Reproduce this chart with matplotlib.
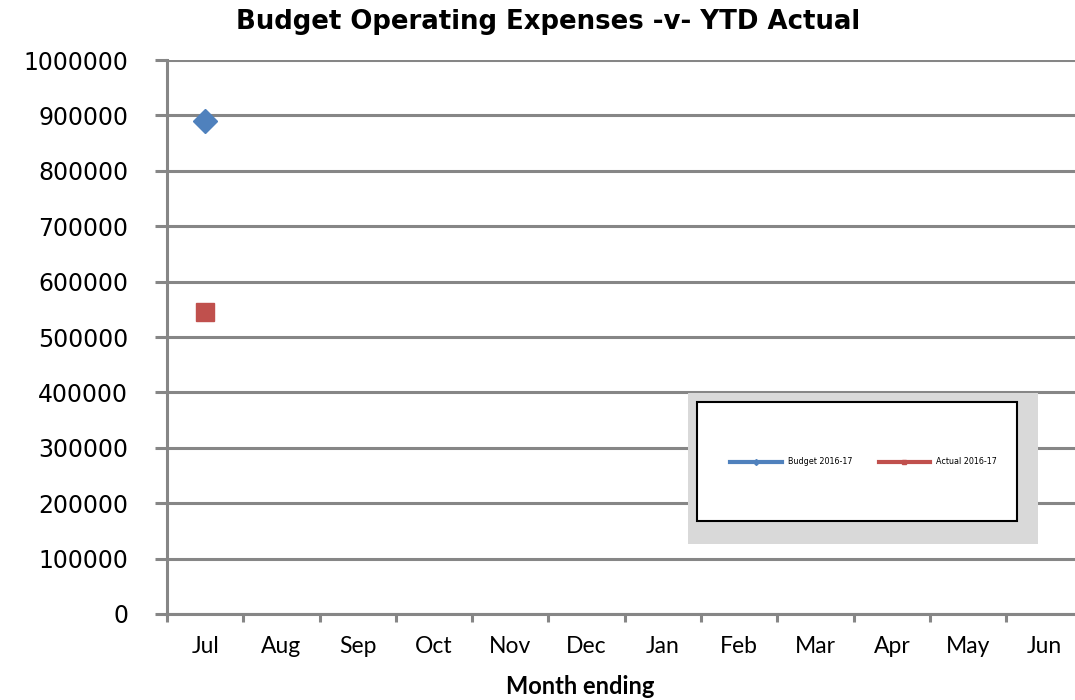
import matplotlib.pyplot as plt
import numpy as np
from matplotlib.patches import Rectangle

months = ["Jul", "Aug", "Sep", "Oct", "Nov", "Dec", "Jan", "Feb", "Mar", "Apr", "May", "Jun"]
budget = [890000]
actual = [545000]
y_ticks = [0, 100000, 200000, 300000, 400000, 500000, 600000, 700000, 800000, 900000, 1000000]

grid_col = "#868686"
blue = "#4F81BD"
red = "#C0504D"

fig = plt.figure(figsize=(10.75, 7), dpi=100)
ax = fig.add_axes([0.15535, 0.12286, 0.8517, 0.7914])

x = np.arange(len(months))
ax.plot(x[:len(budget)], budget, color=blue, lw=3, marker="D", ms=12,
        label="Budget 2016-17", zorder=4)
ax.plot(x[:len(actual)], actual, color=red, lw=3, marker="s", ms=13,
        label="Actual 2016-17", zorder=4)

ax.set_xlim(-0.5, len(months) - 0.5)
ax.set_ylim(0, 1000000)
ax.set_yticks(y_ticks)
ax.set_yticklabels([str(v) for v in y_ticks], fontsize=17, family="DejaVu Sans")
ax.set_xticks(x)
ax.set_xticklabels(months, fontsize=16.5, family="Lato")
ax.set_xticks(np.arange(-0.5, len(months)), minor=True)

ax.tick_params(axis="x", which="major", length=0, pad=16)
ax.tick_params(axis="x", which="minor", length=6, width=2.2, color=grid_col)
ax.tick_params(axis="y", length=9, width=2.2, color=grid_col, pad=19)

ax.grid(True, axis="y", color=grid_col, lw=2.2, zorder=1)
ax.set_axisbelow(True)
for s in ["top", "right"]:
    ax.spines[s].set_visible(False)
for s in ["left", "bottom"]:
    ax.spines[s].set_color(grid_col)
    ax.spines[s].set_linewidth(2.2)

fig.text(0.51, 0.969, "Budget Operating Expenses -v- YTD Actual", ha="center", va="center",
         fontsize=18.7, fontweight="bold", family="DejaVu Sans")
fig.text(0.54, 0.02, "Month ending", ha="center", va="center",
         fontsize=17, fontweight="bold", family="Lato")

# legend box
ax.add_patch(Rectangle((0.64, 0.2229), 0.3256, 0.2157, transform=fig.transFigure,
                       facecolor="#D9D9D9", edgecolor="none", zorder=6, clip_on=False))
ax.add_patch(Rectangle((0.6484, 0.2557), 0.2977, 0.17, transform=fig.transFigure,
                       facecolor="white", edgecolor="black", lw=1.5, zorder=7, clip_on=False))
leg = ax.legend(loc="center", bbox_to_anchor=(0.8033, 0.34), bbox_transform=fig.transFigure,
                ncol=2, frameon=False, fontsize=5.8, handlelength=6.4, handletextpad=0.75,
                columnspacing=3.3, markerscale=0.25)
leg.set_zorder(8)

plt.savefig("out.png")
